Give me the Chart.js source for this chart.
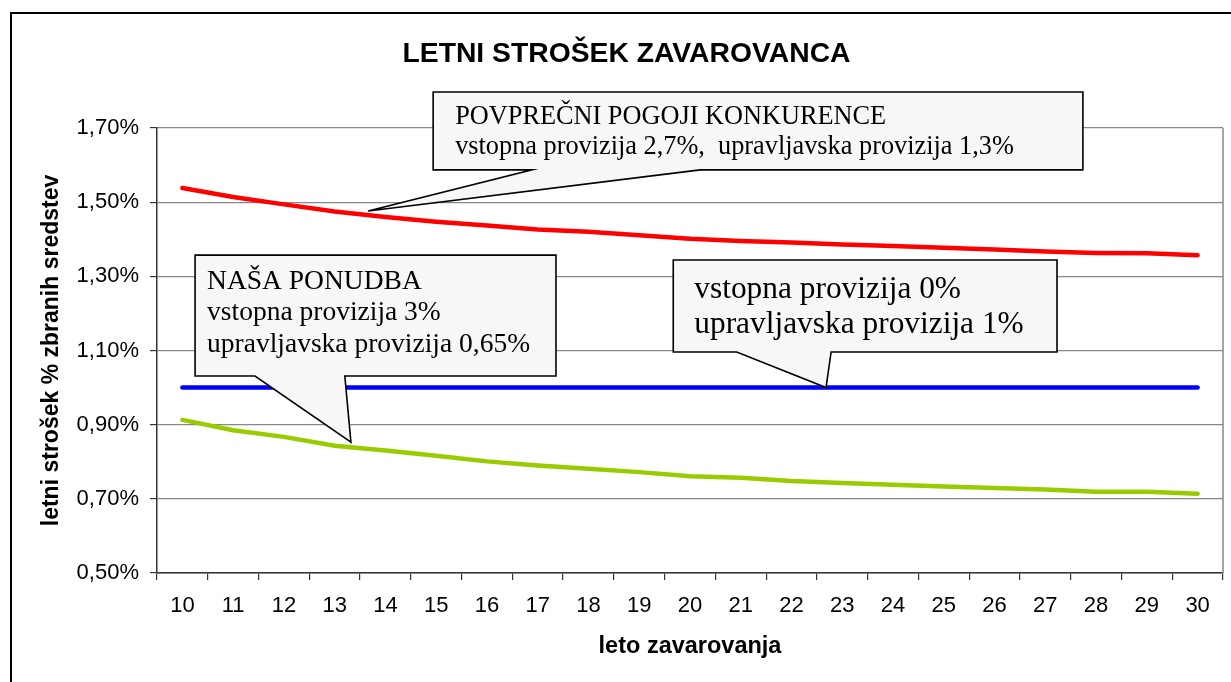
<!DOCTYPE html>
<html><head><meta charset="utf-8">
<script src="https://cdn.jsdelivr.net/npm/chart.js@4/dist/chart.umd.min.js"></script>
<style>html,body{margin:0;padding:0;background:#fff;overflow:hidden}canvas{display:block}</style>
</head><body>
<canvas id="c" width="1231" height="682"></canvas>
<script>
// ---- data ----
const years = ['10','11','12','13','14','15','16','17','18','19','20','21','22','23','24','25','26','27','28','29','30'];
const konkurenca = [1.538,1.514,1.494,1.475,1.460,1.447,1.437,1.426,1.420,1.411,1.401,1.395,1.391,1.386,1.382,1.377,1.372,1.367,1.363,1.362,1.357];
const brezVstopne = [1.00,1.00,1.00,1.00,1.00,1.00,1.00,1.00,1.00,1.00,1.00,1.00,1.00,1.00,1.00,1.00,1.00,1.00,1.00,1.00,1.00];
const nasaPonudba = [0.913,0.885,0.867,0.843,0.830,0.816,0.801,0.790,0.781,0.772,0.761,0.757,0.748,0.743,0.738,0.733,0.729,0.725,0.719,0.719,0.714];
const yMin = 0.5, yMax = 1.7, yStep = 0.2;
const chartTitle = 'LETNI STROŠEK ZAVAROVANCA';
const xTitle = 'leto zavarovanja';
const yTitle = 'letni strošek % zbranih sredstev';

// callouts: tip & box in data units (x = category index, y = value)
const callouts = [
  { lines: ['POVPREČNI POGOJI KONKURENCE', 'vstopna provizija 2,7%,  upravljavska provizija 1,3%'],
    box: { x0: 4.94, x1: 17.74, y0: 1.797, y1: 1.587 }, base: [6.89, 10.20], tip: { x: 3.66, y: 1.476 },
    font: 26.3, padX: 22, lineY: [25, 55] },
  { lines: ['NAŠA PONUDBA', 'vstopna provizija 3%', 'upravljavska provizija 0,65%'],
    box: { x0: 0.25, x1: 7.36, y0: 1.357, y1: 1.031 }, base: [1.43, 3.20], tip: { x: 3.32, y: 0.853 },
    font: 27.5, padX: 12, lineY: [27, 58, 90] },
  { lines: ['vstopna provizija 0%', 'upravljavska provizija 1%'],
    box: { x0: 9.67, x1: 17.23, y0: 1.344, y1: 1.096 }, base: [10.92, 12.78], tip: { x: 12.68, y: 1.00 },
    font: 31.4, padX: 21, lineY: [30, 65] }
];

const framePlugin = {
  id: 'frame',
  beforeDraw(chart) {
    const ctx = chart.ctx;
    ctx.save();
    ctx.fillStyle = '#fff';
    ctx.fillRect(0, 0, chart.width, chart.height);
    ctx.strokeStyle = '#000';
    ctx.lineWidth = 2;
    ctx.strokeRect(11, 13, chart.width + 20, chart.height + 20);
    ctx.restore();
  },
  beforeDatasetsDraw(chart) {
    const { ctx, chartArea: a } = chart;
    ctx.save();
    ctx.strokeStyle = '#888';
    ctx.lineWidth = 1.5;
    ctx.beginPath();
    ctx.moveTo(a.right, a.top);
    ctx.lineTo(a.right, a.bottom);
    ctx.stroke();
    ctx.restore();
  }
};

const calloutPlugin = {
  id: 'callouts',
  afterDatasetsDraw(chart) {
    const ctx = chart.ctx, xs = chart.scales.x, ys = chart.scales.y;
    callouts.forEach(c => {
      const L = xs.getPixelForValue(c.box.x0), R = xs.getPixelForValue(c.box.x1);
      const T = ys.getPixelForValue(c.box.y0), B = ys.getPixelForValue(c.box.y1);
      const b1 = xs.getPixelForValue(c.base[0]), b2 = xs.getPixelForValue(c.base[1]);
      const tx = xs.getPixelForValue(c.tip.x), ty = ys.getPixelForValue(c.tip.y);
      ctx.save();
      ctx.beginPath();
      ctx.moveTo(L, T); ctx.lineTo(R, T); ctx.lineTo(R, B);
      ctx.lineTo(b2, B); ctx.lineTo(tx, ty); ctx.lineTo(b1, B);
      ctx.lineTo(L, B); ctx.closePath();
      ctx.fillStyle = '#f7f7f7';
      ctx.fill();
      ctx.lineWidth = 1.6;
      ctx.strokeStyle = '#000';
      ctx.lineJoin = 'miter';
      ctx.stroke();
      ctx.fillStyle = '#000';
      ctx.font = c.font + 'px "Liberation Serif", "Times New Roman", serif';
      ctx.textBaseline = 'middle';
      ctx.textAlign = 'left';
      c.lines.forEach((t, i) => ctx.fillText(t, L + c.padX, T + c.lineY[i]));
      ctx.restore();
    });
  }
};

const fmt = v => v.toFixed(2).replace('.', ',') + '%';
const sans = '"Liberation Sans", Arial, sans-serif';

new Chart(document.getElementById('c'), {
  type: 'line',
  data: {
    labels: years,
    datasets: [
      { label: 'konkurenca', data: konkurenca, borderColor: '#ff0000', borderWidth: 4.5, pointRadius: 0, tension: 0, borderCapStyle: 'round' },
      { label: 'brez vstopne', data: brezVstopne, borderColor: '#0000ff', borderWidth: 4.5, pointRadius: 0, tension: 0, borderCapStyle: 'round' },
      { label: 'naša ponudba', data: nasaPonudba, borderColor: '#99cc00', borderWidth: 4.5, pointRadius: 0, tension: 0, borderCapStyle: 'round' }
    ]
  },
  options: {
    responsive: false,
    animation: false,
    events: [],
    layout: { padding: { left: 30, right: 8, top: 0, bottom: 0 } },
    plugins: {
      legend: { display: false },
      tooltip: { enabled: false },
      title: {
        display: true, text: chartTitle, color: '#000',
        font: { family: sans, size: 28.3, weight: 'bold', lineHeight: 1.2 },
        padding: { top: 37, bottom: 57 }
      }
    },
    scales: {
      x: {
        type: 'category', offset: true,
        grid: { offset: true, drawOnChartArea: false, drawTicks: true, tickLength: 7, tickColor: '#333', lineWidth: 1.2 },
        border: { color: '#333', width: 1.5 },
        ticks: { color: '#000', padding: 13, maxRotation: 0, autoSkip: false,
                 font: { family: sans, size: 22, lineHeight: 1.2 } },
        title: { display: true, text: xTitle, color: '#000',
                 font: { family: sans, size: 23.5, weight: 'bold', lineHeight: 1.2 },
                 padding: { top: 0, bottom: 21 } },
        afterFit(s) { s.height = 109; }
      },
      y: {
        min: yMin, max: yMax,
        grid: { color: '#888', lineWidth: 1.2, tickLength: 7, tickColor: '#333' },
        border: { color: '#333', width: 1.5 },
        ticks: { stepSize: yStep, color: '#000', padding: 11, callback: v => fmt(v),
                 font: { family: sans, size: 22, lineHeight: 1.2 } },
        title: { display: true, text: yTitle, color: '#000',
                 font: { family: sans, size: 23, weight: 'bold', lineHeight: 1.2 },
                 padding: { top: 8, bottom: 0 } },
        afterFit(s) { s.width = 127; }
      }
    }
  },
  plugins: [framePlugin, calloutPlugin]
});
</script>
</body></html>
